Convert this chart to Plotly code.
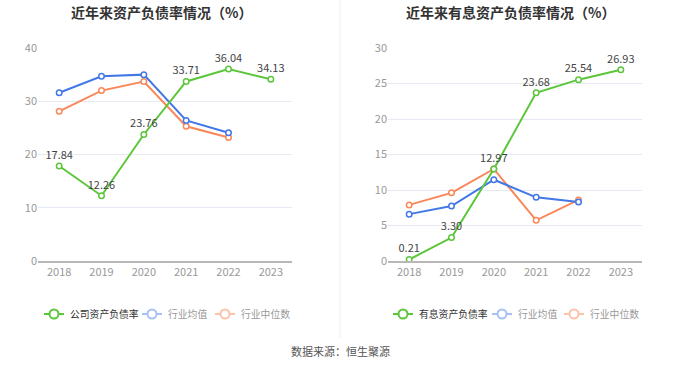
import plotly.graph_objects as go

years = ["2018", "2019", "2020", "2021", "2022", "2023"]
company_debt = [17.84, 12.26, 23.76, 33.71, 36.04, 34.13]
industry_avg = [31.6, 34.7, 35.0, 26.4, 24.1]
industry_median = [28.1, 32.0, 33.7, 25.3, 23.2]

interest_debt = [0.21, 3.30, 12.97, 23.68, 25.54, 26.93]
interest_avg = [6.6, 7.75, 11.45, 8.97, 8.3]
interest_median = [7.9, 9.6, 12.96, 5.73, 8.6]

legend_names = ["公司资产负债率", "行业均值", "行业中位数", "有息资产负债率", "行业均值", "行业中位数"]

GREEN = "#5BC63A"
BLUE = "#4277E8"
ORANGE = "#FA8759"
FONT = "Noto Sans CJK SC"
W, H = 680, 367

fig = go.Figure()

def add_series(x, y, color, xa, ya, labels=False):
    fig.add_trace(go.Scatter(
        x=x, y=y, mode="lines+markers+text" if labels else "lines+markers",
        xaxis=xa, yaxis=ya, showlegend=False,
        line=dict(color=color, width=2),
        marker=dict(symbol="circle", size=5.5, color="white", line=dict(color=color, width=1.5)),
        text=[f"{v:.2f}" for v in y] if labels else None,
        textposition="top center",
        textfont=dict(size=11, color="#444", family=FONT),
        cliponaxis=False, hoverinfo="skip"))

add_series(years[:5], industry_median, ORANGE, "x", "y")
add_series(years[:5], industry_avg, BLUE, "x", "y")
add_series(years, company_debt, GREEN, "x", "y", labels=True)
add_series(years[:5], interest_median, ORANGE, "x2", "y2")
add_series(years[:5], interest_avg, BLUE, "x2", "y2")
add_series(years, interest_debt, GREEN, "x2", "y2", labels=True)

# legend styling (layout only)
legend_icon_colors = [GREEN, "#A7C0F5", "#FDC2AA", GREEN, "#A7C0F5", "#FDC2AA"]
legend_text_colors = ["#333", "#999", "#999", "#333", "#999", "#999"]
legend_icon_center = [54, 152, 225, 403, 502, 574]
legend_y = 314

shapes = [dict(type="line", xref="paper", yref="paper", x0=0.5, x1=0.5, y0=1 - 338 / H, y1=1,
               line=dict(color="#EEEEEE", width=1))]
annotations = []
for name, icol, tcol, cx in zip(legend_names, legend_icon_colors, legend_text_colors, legend_icon_center):
    yp = 1 - legend_y / H
    shapes.append(dict(type="line", xref="paper", yref="paper", x0=(cx - 10) / W, x1=(cx + 10) / W,
                       y0=yp, y1=yp, line=dict(color=icol, width=2)))
    shapes.append(dict(type="circle", xref="paper", yref="paper", xsizemode="pixel", ysizemode="pixel",
                       xanchor=cx / W, yanchor=yp, x0=-4.5, x1=4.5, y0=-4.5, y1=4.5,
                       fillcolor="white", line=dict(color=icol, width=2)))
    annotations.append(dict(text=name, x=(cx + 14) / W, y=yp, xref="paper", yref="paper", showarrow=False,
                            xanchor="left", yanchor="middle", font=dict(size=9.8, color=tcol, family=FONT)))

annotations += [
    dict(text="<b>近年来资产负债率情况（%）</b>", x=161 / W, y=1 - 12 / H, xref="paper", yref="paper",
         showarrow=False, xanchor="center", yanchor="middle", font=dict(size=14, color="#333", family=FONT)),
    dict(text="<b>近年来有息资产负债率情况（%）</b>", x=510 / W, y=1 - 12 / H, xref="paper", yref="paper",
         showarrow=False, xanchor="center", yanchor="middle", font=dict(size=14, color="#333", family=FONT)),
    dict(text="数据来源：恒生聚源", x=0.5, y=1 - 351 / H, xref="paper", yref="paper",
         showarrow=False, xanchor="center", yanchor="middle", font=dict(size=11, color="#555", family=FONT)),
]

ytop = 1 - 48 / H
ybot = 1 - 261 / H
axis_common_x = dict(type="category", showgrid=False, showline=True, linecolor="#B8B8B8", linewidth=1.5,
                     ticks="", tickfont=dict(size=11, color="#999", family=FONT), range=[-0.5, 5.5],
                     fixedrange=True, zeroline=False)
axis_common_y = dict(showgrid=True, gridcolor="#E6E9F2", gridwidth=1, showline=False, zeroline=False,
                     ticks="", tickfont=dict(size=11, color="#999", family=FONT), fixedrange=True)

fig.update_layout(
    width=W, height=H, margin=dict(l=0, r=0, t=0, b=0, autoexpand=False),
    paper_bgcolor="white", plot_bgcolor="white", showlegend=False,
    font=dict(family=FONT),
    xaxis=dict(domain=[38 / W, 292 / W], anchor="y", **axis_common_x),
    yaxis=dict(domain=[ybot, ytop], anchor="x", range=[0, 40], dtick=10, **axis_common_y),
    xaxis2=dict(domain=[388 / W, 642 / W], anchor="y2", **axis_common_x),
    yaxis2=dict(domain=[ybot, ytop], anchor="x2", range=[0, 30], dtick=5, **axis_common_y),
    shapes=shapes,
    annotations=annotations,
)

fig.write_html("out.html", config={"displayModeBar": False},
               post_script="document.body.style.margin='0';")
